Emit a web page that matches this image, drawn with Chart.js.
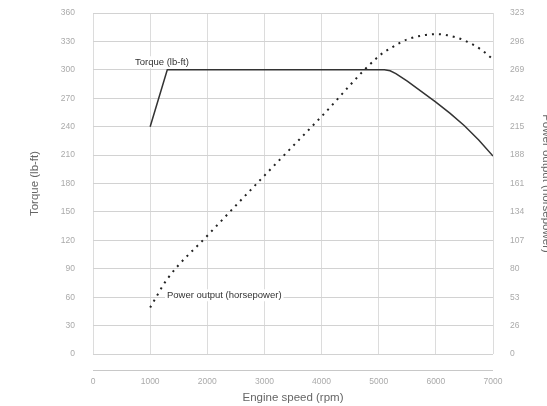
<!DOCTYPE html>
<html>
<head>
<meta charset="utf-8">
<script src="https://cdn.jsdelivr.net/npm/chart.js@4/dist/chart.umd.min.js"></script>
<style>
html, body { margin: 0; padding: 0; background: #fff; overflow: hidden; }
.wrap { width: 556px; height: 406px; }
</style>
</head>
<body>
<div class="wrap"><canvas id="chart"></canvas></div>
<script>
// engine curve
var torqueRpm = [1000, 1300, 5000, 5100, 5200, 5300, 5400, 5500, 5750, 6000, 6250, 6500, 6750, 7000];
var torque    = [240, 300, 300, 300, 299, 296, 292, 288, 277, 266, 254, 241, 226, 209];

var powerRpm = [1000, 1300, 2000, 3000, 4000, 5000, 5250, 5500, 5800, 6000, 6200, 6500, 6800, 7000];
var power    = [44, 71, 112, 169, 225, 282, 291, 298, 302, 303, 302, 297, 288, 279];

var powerTicks = [0, 26, 53, 80, 107, 134, 161, 188, 215, 242, 269, 296, 323];
var powerMax = 323;

var notes = [
    { text: 'Torque (lb-ft)', rpm: 735, axis: 'y', value: 308 },
    { text: 'Power output (horsepower)', rpm: 1295, axis: 'y', value: 62 }
];

var font = '"Liberation Sans", Arial, sans-serif';

function pairs(xs, ys) {
    return xs.map(function (x, i) { return { x: x, y: ys[i] }; });
}

// keep tick padding from pushing the plot top down
function fitSide(w) {
    return function (s) {
        s.width = w;
        s.paddingTop = 5;
        s.paddingBottom = 5;
    };
}

var extras = {
    id: 'extras',
    afterDatasetsDraw: function (chart) {
        var ctx = chart.ctx, a = chart.chartArea, xs = chart.scales.x;
        ctx.save();
        // detached x axis line
        ctx.strokeStyle = '#c8c8c8';
        ctx.lineWidth = 1;
        ctx.beginPath();
        ctx.moveTo(a.left, Math.round(a.bottom) + 16.5);
        ctx.lineTo(a.right, Math.round(a.bottom) + 16.5);
        ctx.stroke();

        ctx.font = '9.5px ' + font;
        ctx.textBaseline = 'middle';
        notes.forEach(function (n) {
            var px = xs.getPixelForValue(n.rpm);
            var py = chart.scales[n.axis].getPixelForValue(n.value);
            var w = ctx.measureText(n.text).width;
            ctx.fillStyle = '#fff';
            ctx.fillRect(px - 2, py - 6, w + 4, 12);
            ctx.fillStyle = '#333';
            ctx.fillText(n.text, px, py);
        });
        ctx.restore();
    }
};

new Chart(document.getElementById('chart'), {
    type: 'line',
    data: {
        datasets: [{
            label: 'Torque (lb-ft)',
            data: pairs(torqueRpm, torque),
            yAxisID: 'y',
            borderColor: '#333',
            borderWidth: 1.5,
            pointRadius: 0,
            tension: 0
        }, {
            label: 'Power output (horsepower)',
            data: pairs(powerRpm, power),
            yAxisID: 'y1',
            borderColor: '#222',
            borderWidth: 2,
            borderDash: [2, 5],
            pointRadius: 0,
            cubicInterpolationMode: 'monotone'
        }]
    },
    options: {
        responsive: true,
        maintainAspectRatio: false,
        animation: false,
        layout: { padding: { top: 13, left: 0, right: 0, bottom: 0 } },
        plugins: { legend: { display: false }, tooltip: { enabled: false } },
        scales: {
            x: {
                type: 'linear',
                min: 0,
                max: 7000,
                afterFit: function (s) { s.height = 52; },
                ticks: {
                    stepSize: 1000, padding: 23, color: '#aaa', font: { family: font, size: 8.5 },
                    callback: function (v) { return String(v); }
                },
                grid: { color: '#dcdcdc', drawTicks: false },
                border: { display: false },
                title: { display: true, text: 'Engine speed (rpm)', color: '#666', padding: { top: 0, bottom: 1 }, font: { family: font, size: 11.5 } }
            },
            y: {
                position: 'left',
                min: 0,
                max: 360,
                afterFit: fitSide(93),
                ticks: { stepSize: 30, padding: 18, color: '#aaa', font: { family: font, size: 8.5 } },
                grid: { color: '#d2d2d2', drawTicks: false },
                border: { display: false },
                title: { display: true, text: 'Torque (lb-ft)', color: '#666', padding: { top: 28, bottom: 0 }, font: { family: font, size: 11.5 } }
            },
            y1: {
                position: 'right',
                min: 0,
                max: powerMax,
                afterFit: fitSide(63),
                afterBuildTicks: function (s) {
                    s.ticks = powerTicks.map(function (v, i) { return { value: i * powerMax / (powerTicks.length - 1) }; });
                },
                ticks: {
                    padding: 17,
                    color: '#aaa',
                    font: { family: font, size: 8.5 },
                    callback: function (v, i) { return powerTicks[i]; }
                },
                grid: { display: false, drawTicks: false },
                border: { display: false },
                title: { display: true, text: 'Power output (horsepower)', color: '#666', padding: { top: 3, bottom: 0 }, font: { family: font, size: 11.5 } }
            }
        }
    },
    plugins: [extras]
});
</script>
</body>
</html>
